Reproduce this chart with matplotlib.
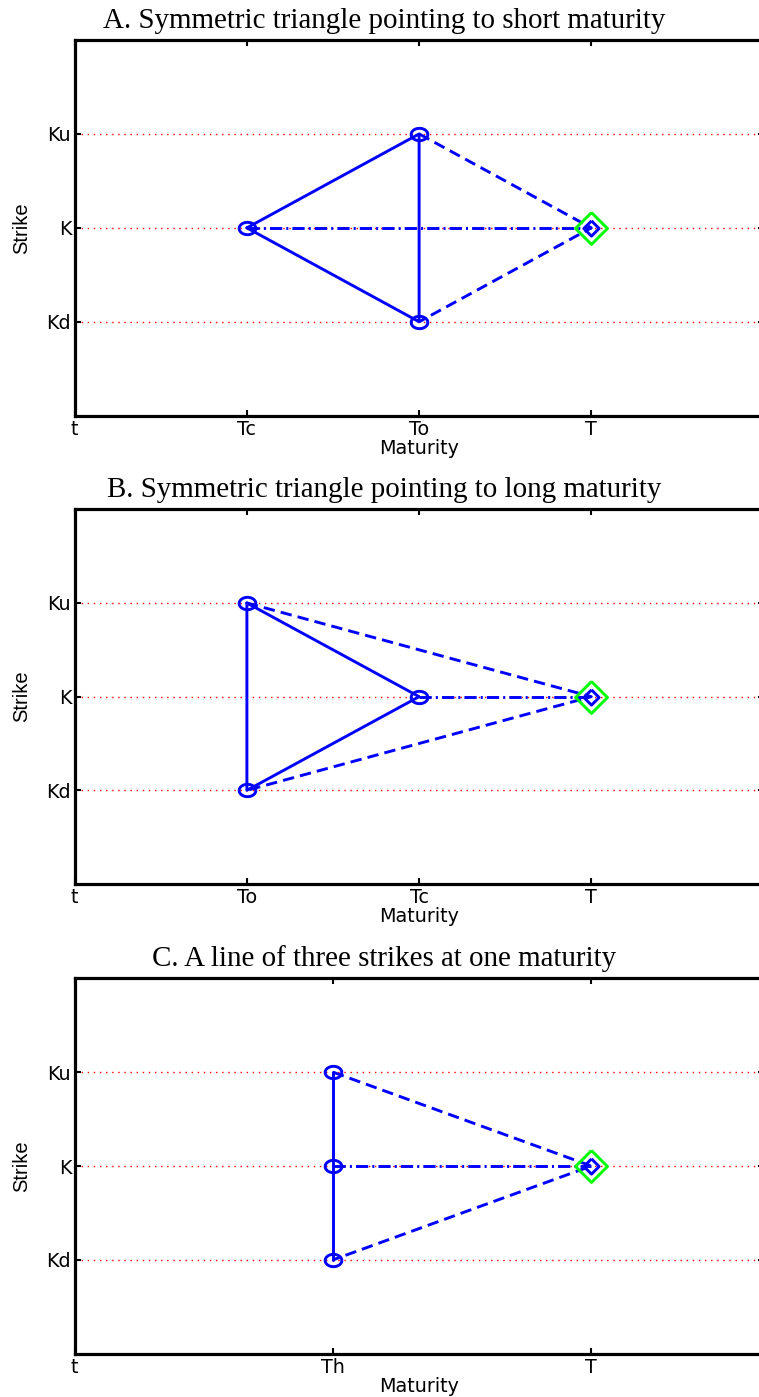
import matplotlib
matplotlib.use("Agg")
import matplotlib.pyplot as plt
import numpy as np

# strike levels (Kd, K, Ku) and the reference maturity T
strike_pos = [-1, 0, 1]
strike_labels = ["Kd", "K", "Ku"]
T_mat = 3

titles = [
    "A. Symmetric triangle pointing to short maturity",
    "B. Symmetric triangle pointing to long maturity",
    "C. A line of three strikes at one maturity",
]

# maturity ticks for each panel
mat_pos = [[0, 1, 2, 3], [0, 1, 2, 3], [0, 1.5, 3]]
mat_labels = [["t", "Tc", "To", "T"], ["t", "To", "Tc", "T"], ["t", "Th", "T"]]

# solid edges of each stencil
solid_x = [[1, 2, 2, 1], [1, 1, 2, 1], [1.5, 1.5]]
solid_y = [[0, 1, -1, 0], [1, -1, 0, 1], [1, -1]]

# dashed links from Ku / Kd options to (T, K)
dash_x = [[2, 3, 2], [1, 3, 1], [1.5, 3, 1.5]]
dash_y = [[1, 0, -1], [1, 0, -1], [1, 0, -1]]

# dash-dot link from the at-the-money option to (T, K)
dd_x = [[1, 3], [2, 3], [1.5, 3]]
dd_y = [[0, 0], [0, 0], [0, 0]]

# option nodes
node_x = [[1, 2, 2], [1, 1, 2], [1.5, 1.5, 1.5]]
node_y = [[0, 1, -1], [1, -1, 0], [1, 0, -1]]

# axes boxes in pixels: (top, bottom)
W, H = 759, 1397
boxes = [(40.0, 415.7), (509.3, 884.0), (978.3, 1353.7)]
left_px, right_px = 74.7, 763.5

t = np.linspace(0, 2 * np.pi, 60)
ellipse = np.column_stack([1.35 * np.cos(t), np.sin(t)])
diamond = np.array([[0, 1], [1, 0], [0, -1], [-1, 0], [0, 1]])

blue = "#0000ff"
tick_font = dict(family="DejaVu Sans", size=13.8)

fig = plt.figure(figsize=(W / 100, H / 100), dpi=100)

for i in range(3):
    top, bot = boxes[i]
    ax = fig.add_axes([left_px / W, 1 - bot / H, (right_px - left_px) / W, (bot - top) / H])
    ax.set_xlim(0, 4)
    ax.set_ylim(-2, 2)

    for y in strike_pos:
        ax.plot([0, 4], [y, y], color="#ff0000", lw=1.0, ls=(0, (1, 3.4)), zorder=1)

    ax.plot(solid_x[i], solid_y[i], color=blue, lw=2.1, solid_capstyle="round", zorder=3)
    ax.plot(dash_x[i], dash_y[i], color=blue, lw=2.1, ls=(0, (3.9, 2.1)), zorder=3)
    ax.plot(dd_x[i], dd_y[i], color=blue, lw=2.1, ls=(0, (4.2, 1.4, 0.7, 1.4)), zorder=3)
    ax.plot(node_x[i], node_y[i], ls="none", marker=ellipse, ms=12,
            mfc="none", mec=blue, mew=2.1, zorder=4)

    ax.plot([T_mat], [0], ls="none", marker=diamond, ms=23,
            mfc="none", mec="#00ff00", mew=2.1, zorder=5)
    ax.plot([T_mat], [0], ls="none", marker=diamond, ms=11,
            mfc="none", mec=blue, mew=2.1, zorder=6)

    ax.set_xticks(mat_pos[i])
    ax.set_xticklabels(mat_labels[i], fontdict=tick_font)
    ax.set_yticks(strike_pos)
    ax.set_yticklabels(strike_labels, fontdict=tick_font)
    ax.tick_params(direction="in", length=4, width=1.5, top=True, right=True, pad=3)
    ax.tick_params(axis="y", pad=2.5)

    for s in ax.spines.values():
        s.set_linewidth(2.3)

    ax.set_xlabel("Maturity", fontdict=tick_font, labelpad=0)
    ax.set_ylabel("Strike", family="Liberation Sans", size=14.5, labelpad=11)
    ax.set_title(titles[i], family="Liberation Serif", size=20.9, x=0.449, pad=9)

fig.savefig("out.png", dpi=100)
